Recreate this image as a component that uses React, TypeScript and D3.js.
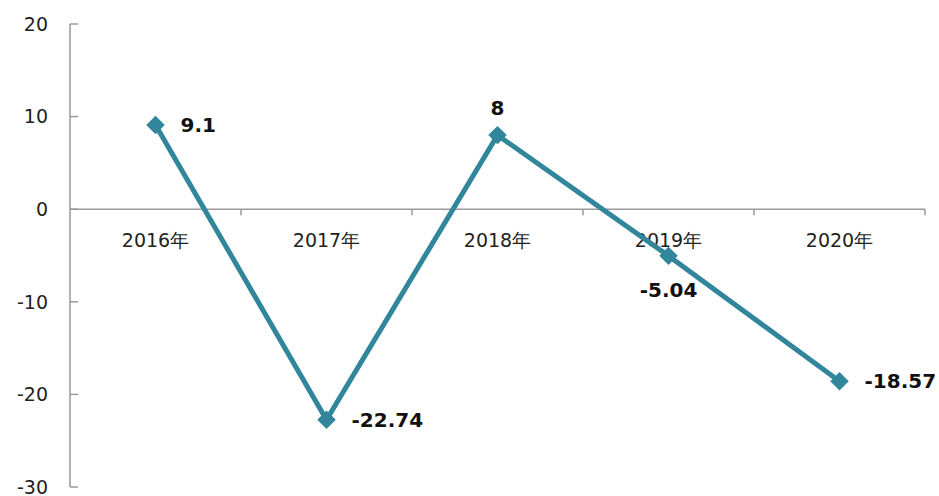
import React from "react";
import * as d3 from "d3";

const categories = ["2016年", "2017年", "2018年", "2019年", "2020年"];
const values = [9.1, -22.74, 8, -5.04, -18.57];
const labelPos = ["right", "right", "top", "bottom", "right"];
const yTicks = [20, 10, 0, -10, -20, -30];

const W = 939, H = 496;
const left = 70, right = 925, top = 24, bottom = 487;

export default function App() {
  const x = d3.scaleBand<string>().domain(categories).range([left, right]);
  const y = d3.scaleLinear().domain([-30, 20]).range([bottom, top]);
  const line = d3.line<number>()
    .x((_, i) => x(categories[i])! + x.bandwidth() / 2)
    .y((d) => y(d));
  const font = "'DejaVu Sans', Verdana, sans-serif";
  const color = "#31869B";
  const diamond = d3.symbol(d3.symbolSquare, 170)();
  return (
    <svg width={W} height={H} style={{ position: "absolute", left: 0, top: 0, background: "#fff" }}>
      {/* y axis */}
      <line x1={left} x2={left} y1={top} y2={bottom} stroke="#999" strokeWidth={1.5} />
      {yTicks.map((t) => (
        <g key={t}>
          <line x1={left} x2={left + 8} y1={y(t)} y2={y(t)} stroke="#999" strokeWidth={1.5} />
          <text x={48} y={y(t)} dy="0.36em" textAnchor="end" fontFamily={font} fontSize={19} fill="#222">
            {t}
          </text>
        </g>
      ))}
      {/* x axis at 0 */}
      <line x1={left} x2={right} y1={y(0)} y2={y(0)} stroke="#999" strokeWidth={1.5} />
      {categories.map((c) => (
        <g key={c}>
          <line x1={x(c)! + x.bandwidth()} x2={x(c)! + x.bandwidth()} y1={y(0)} y2={y(0) + 6} stroke="#999" strokeWidth={1.5} />
          <text x={x(c)! + x.bandwidth() / 2} y={y(0) + 38} textAnchor="middle" fontFamily={font} fontSize={19} fill="#222">
            {c}
          </text>
        </g>
      ))}
      <path d={line(values)!} fill="none" stroke={color} strokeWidth={5} strokeLinejoin="miter" />
      {values.map((v, i) => {
        const cx = x(categories[i])! + x.bandwidth() / 2;
        const cy = y(v);
        const pos = labelPos[i];
        let lx = cx, ly = cy, anchor = "middle";
        if (pos === "right") { lx = cx + 25; ly = cy + 7; anchor = "start"; }
        if (pos === "top") { ly = cy - 20; }
        if (pos === "bottom") { ly = cy + 41; }
        return (
          <g key={i}>
            <path d={diamond!} transform={`translate(${cx},${cy}) rotate(45)`} fill={color} />
            <text x={lx} y={ly} textAnchor={anchor} fontFamily={font} fontSize={20} fontWeight="bold" fill="#111">
              {v}
            </text>
          </g>
        );
      })}
    </svg>
  );
}
